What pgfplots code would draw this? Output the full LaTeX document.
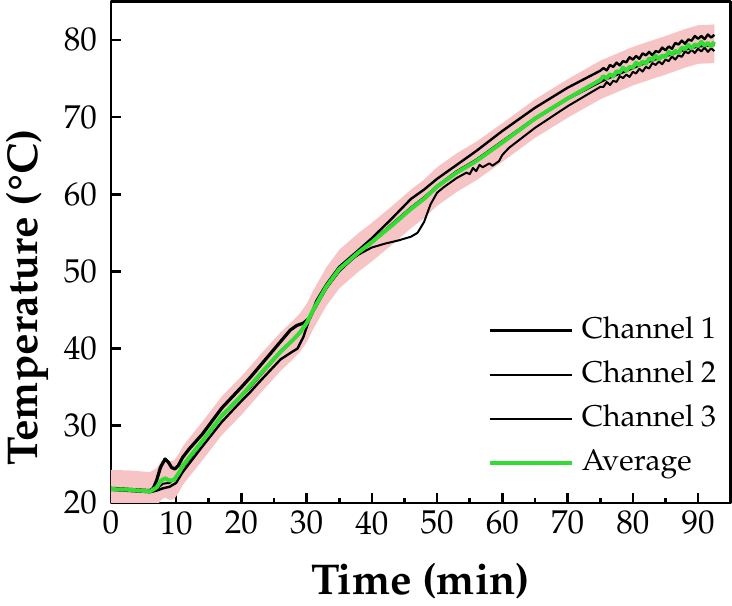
\documentclass[border=0pt]{standalone}
\usepackage[T1]{fontenc}
\usepackage{mathpazo}
\usepackage{pgfplots}
\pgfplotsset{compat=1.18}
\definecolor{avg}{RGB}{50,220,50}
\definecolor{band}{RGB}{246,196,196}

\begin{document}
\begin{tikzpicture}
\begin{axis}[
    width=309.5pt, height=250.5pt, scale only axis,
    xmin=0, xmax=95, ymin=20, ymax=85,
    xtick={0,10,...,90}, ytick={20,30,...,80},
    minor x tick num=1,
    xtick pos=bottom, ytick pos=left,
    tick align=inside,
    major tick length=5pt, minor tick length=2.5pt,
    axis line style={line width=1.3pt},
    every tick/.style={black, line width=1.3pt},
    tick label style={font=\fontsize{16.5}{18}\selectfont},
    xticklabel style={yshift=-0.5pt},
    yticklabel style={xshift=-3.5pt},
    xlabel={Time (min)},
    ylabel={Temperature (\textdegree C)},
    label style={font=\fontsize{21.5}{24}\selectfont\bfseries},
    xlabel style={at={(axis description cs:0.5,0)}, anchor=base, yshift=-45.5pt},
    ylabel style={at={([xshift=-36.5pt]axis description cs:0,0.41)}, anchor=base, rotate=0},
    legend cell align=left,
    legend image code/.code={\draw[#1] (0pt,0pt) -- (41pt,0pt); \path (44pt,0pt);},
    legend style={draw=none, fill=none, inner sep=0pt,
        at={(axis description cs:1,0)}, anchor=south east, xshift=-6pt, yshift=12pt,
        font=\fontsize{15}{17}\selectfont, row sep=6.5pt,
        nodes={inner xsep=1pt, inner ysep=1pt, text height=10.5pt, text depth=3pt}},
    line join=round,
]
% error band (average +- 2.5)
\addplot[draw=none, fill=band, forget plot] coordinates {
(0,24.3)(3,24.2)(6,24.0)(7,24.5)(7.7,25.4)(8.3,25.7)(9,25.4)(9.7,25.5)(10.5,26.5)(11,27.3)(12,28.4)(14,30.5)(17,33.8)(20,36.4)(23,39.3)(26,42.1)(28,43.7)(29,44.6)(30,45.8)(31,47.5)(33,50.5)(35,52.8)(38,55.0)(40,56.3)(43,58.4)(46,60.6)(48,61.9)(50,63.5)(53,65.3)(56,66.8)(60,69.2)(65,72.3)(70,74.9)(75,77.3)(80,79.1)(85,80.5)(88,81.4)(90,81.9)(92.5,82.0)
(92.5,77.0)(90,76.9)(88,76.4)(85,75.5)(80,74.1)(75,72.3)(70,69.9)(65,67.3)(60,64.2)(56,61.8)(53,60.3)(50,58.5)(48,56.9)(46,55.6)(43,53.4)(40,51.3)(38,50.0)(35,47.8)(33,45.5)(31,42.5)(30,40.8)(29,39.6)(28,38.7)(26,37.1)(23,34.3)(20,31.4)(17,28.8)(14,25.5)(12,23.4)(11,22.3)(10.5,21.5)(9.7,20.5)(9,20.4)(8.3,20.7)(7.7,20.4)(7,19.5)(6,19.0)(3,19.2)(0,19.3)
};
% Channel 1
\addplot[black, line width=1.6pt] coordinates {
(0,21.9)(2,21.8)(4,21.7)(6,21.6)(6.5,21.9)(7,22.9)(7.6,24.6)(8.3,25.7)(8.8,25.3)(9.3,24.6)(9.8,24.4)(10.3,24.8)(11,25.9)(12,27.0)(14,28.9)(17,32.3)(20,35.0)(21.4,36.3)(23,37.9)(26,40.9)(27.5,42.4)(28.5,43.0)(29.5,43.3)(30.5,44.0)(31,44.9)(33,47.9)(35,50.2)(38,52.4)(40,53.8)(43,56.0)(46,58.2)(48,59.5)(50,61.0)(53,62.9)(56,64.4)(60,66.8)(65,69.8)(70,72.4)(75,74.6)(76,75.0)(78,75.7)(80,76.4)(82,77.1)(84,77.7)(86,78.2)(88,78.8)(90,79.2)(92.5,79.4)
};
\addlegendentry{Channel 1}
% Channel 2
\addplot[black, line width=1.2pt] coordinates {
(0,21.7)(2,21.6)(4,21.5)(6,21.4)(7,21.6)(8,21.9)(9,22.1)(10,22.6)(11,24.0)(12,25.1)(14,27.3)(17,30.5)(20,33.2)(21.4,34.4)(23,35.9)(26,38.6)(28,39.7)(28.6,40.0)(29.5,41.5)(30.5,44.0)(31.5,46.2)(33,48.3)(35,50.6)(38,52.8)(40,54.3)(43,56.8)(46,59.4)(48,60.6)(50,62.0)(53,63.8)(56,65.6)(60,68.2)(65,71.2)(70,73.8)(75,76.0)
(75.5,76.35)(76,76.05)(76.5,76.75)(77,76.5)(77.5,77.05)(78,76.7)(78.5,77.25)(79,77.1)(79.5,77.75)(80,77.45)(80.5,77.9)(81,77.55)(81.5,78.25)(82,78.0)(82.5,78.45)(83,78.0)(83.5,78.55)(84,78.4)(84.5,79.0)(85,78.65)(85.5,79.15)(86,78.85)(86.5,79.6)(87,79.4)(87.5,79.9)(88,79.5)(88.5,80.05)(89,79.9)(89.5,80.5)(90,80.15)(90.5,80.5)(91,80.1)(91.5,80.7)(92,80.3)(92.5,80.65)
};
\addlegendentry{Channel 2}
% Channel 3
\addplot[black, line width=1.0pt] coordinates {
(0,21.8)(2,21.7)(4,21.6)(6,21.5)(7,21.8)(8,22.5)(9,22.6)(10,23.3)(11,24.6)(12,25.6)(14,27.9)(17,31.2)(20,33.8)(21.4,35.0)(23,36.6)(26,39.5)(28,41.1)(30,43.3)(31,44.9)(33,47.8)(35,50.0)(37,51.6)(38,52.2)(40,53.1)(42,53.6)(44,54.0)(46,54.5)(47,55.0)(48,56.4)(49,58.7)(50,60.2)(51,60.9)(53,62.1)(54.5,62.8)(55,62.6)(55.5,63.4)(56,63.0)(56.5,63.8)(57,63.5)(58,64.0)(58.5,63.7)(59.5,64.3)(60,65.1)(61,66.0)(63,67.3)(65,68.6)(70,71.4)(75,73.9)
(75.5,73.9)(76,74.55)(76.5,74.15)(77,74.7)(77.5,74.55)(78,75.3)(78.5,75.05)(79,75.5)(79.5,75.2)(80,75.85)(80.5,75.65)(81,76.25)(81.5,75.9)(82,76.5)(82.5,76.3)(83,77.0)(83.5,76.75)(84,77.2)(84.5,76.85)(85,77.45)(85.5,77.25)(86,77.85)(86.5,77.45)(87,78.0)(87.5,77.8)(88,78.5)(88.5,78.25)(89,78.7)(89.5,78.3)(90,78.85)(90.5,78.5)(91,79.0)(91.5,78.45)(92,78.9)(92.5,78.55)
};
\addlegendentry{Channel 3}
% Average
\addplot[avg, line width=2pt] coordinates {
(0,21.8)(3,21.7)(6,21.5)(7,22.0)(7.7,22.9)(8.3,23.2)(9,22.9)(9.7,23.0)(10.5,24.0)(11,24.8)(12,25.9)(14,28.0)(17,31.3)(20,33.9)(23,36.8)(26,39.6)(28,41.2)(29,42.1)(30,43.3)(31,45.0)(33,48.0)(35,50.3)(38,52.5)(40,53.8)(43,55.9)(46,58.1)(48,59.4)(50,61.0)(53,62.8)(56,64.3)(60,66.7)(65,69.8)(70,72.4)(75,74.8)
(75.5,75.3)(76,75.0)(76.5,75.55)(77,75.25)(77.5,75.95)(78,75.8)(78.5,76.4)(79,76.0)(79.5,76.5)(80,76.4)(80.5,77.05)(81,76.7)(81.5,77.2)(82,76.9)(82.5,77.6)(83,77.4)(83.5,77.95)(84,77.5)(84.5,77.95)(85,77.8)(85.5,78.45)(86,78.1)(86.5,78.6)(87,78.3)(87.5,79.0)(88,78.8)(88.5,79.35)(89,78.9)(89.5,79.4)(90,79.2)(90.5,79.75)(91,79.25)(91.5,79.6)(92,79.2)(92.5,79.75)
};
\addlegendentry{Average}
\end{axis}
\end{tikzpicture}
\end{document}
